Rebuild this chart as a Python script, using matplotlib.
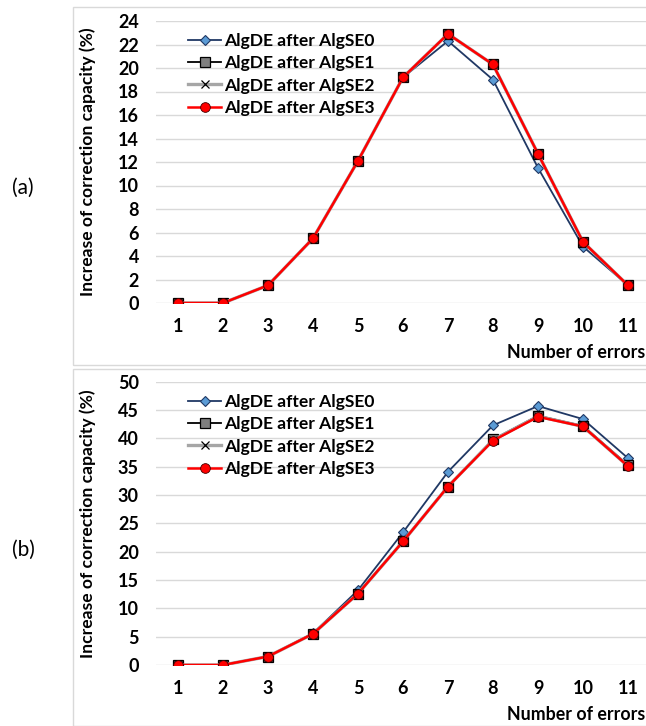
import matplotlib.pyplot as plt
from matplotlib.patches import Rectangle

plt.rcParams["font.family"] = ["Lato", "DejaVu Sans"]

errors = [1, 2, 3, 4, 5, 6, 7, 8, 9, 10, 11]
labels = ["AlgDE after AlgSE0", "AlgDE after AlgSE1",
          "AlgDE after AlgSE2", "AlgDE after AlgSE3"]

# panel (a)
a_se0 = [0, 0, 1.5, 5.5, 12.1, 19.2, 22.3, 19.0, 11.5, 4.8, 1.5]
a_se1 = [0, 0, 1.5, 5.5, 12.1, 19.2, 22.9, 20.3, 12.7, 5.2, 1.5]
a_se2 = [0, 0, 1.5, 5.5, 12.1, 19.2, 22.9, 20.3, 12.7, 5.2, 1.5]
a_se3 = [0, 0, 1.5, 5.5, 12.1, 19.2, 22.9, 20.3, 12.7, 5.2, 1.5]

# panel (b)
b_se0 = [0, 0, 1.5, 5.6, 13.2, 23.4, 34.1, 42.3, 45.7, 43.4, 36.5]
b_se1 = [0, 0, 1.5, 5.5, 12.6, 21.8, 31.5, 39.8, 44.0, 42.2, 35.3]
b_se2 = [0, 0, 1.5, 5.5, 12.6, 21.8, 31.5, 39.7, 43.9, 42.1, 35.1]
b_se3 = [0, 0, 1.5, 5.5, 12.6, 21.8, 31.5, 39.6, 43.8, 42.1, 35.1]

W, H = 646, 726
fig = plt.figure(figsize=(W / 100, H / 100), dpi=100)


def px(x0, y0, x1, y1):
    # pixel box -> figure fraction [left, bottom, width, height]
    return [x0 / W, 1 - y1 / H, (x1 - x0) / W, (y1 - y0) / H]


def draw_panel(ax, series, ymax, ystep):
    s0, s1, s2, s3 = series
    ax.plot(errors, s0, color="#203864", lw=1.3, marker="D", ms=5.5,
            mfc="#5B9BD5", mec="#203864", mew=0.8, label=labels[0], zorder=3)
    ax.plot(errors, s1, color="black", lw=1.3, marker="s", ms=7,
            mfc="#7F7F7F", mec="black", mew=0.9, label=labels[1], zorder=4)
    ax.plot(errors, s2, color="#A6A6A6", lw=2.4, marker="x", ms=6,
            mec="black", mew=0.9, label=labels[2], zorder=5)
    ax.plot(errors, s3, color="#FF0000", lw=1.8, marker="o", ms=7,
            mfc="#FF0000", mec="#400000", mew=0.6, label=labels[3], zorder=6)

    ax.set_xlim(0.5, 11.5)
    ax.set_ylim(0, ymax)
    ax.set_xticks(errors)
    ax.set_yticks(range(0, ymax + 1, ystep))
    ax.grid(axis="y", color="#D9D9D9", lw=1)
    ax.set_axisbelow(True)
    for sp in ax.spines.values():
        sp.set_visible(False)
    ax.tick_params(length=0, labelsize=13)
    ax.tick_params(axis="x", pad=11)
    ax.tick_params(axis="y", pad=12)
    for t in ax.get_xticklabels() + ax.get_yticklabels():
        t.set_fontweight("bold")
    ax.set_ylabel("Increase of correction capacity (%)", fontsize=12.6,
                  fontweight="bold", va="center")
    ax.yaxis.set_label_coords(-0.136, 0.5)
    ax.set_xlabel("Number of errors", fontsize=12.8, fontweight="bold",
                  ha="right", va="center")


ax_a = fig.add_axes(px(155.5, 21, 650.5, 303))
draw_panel(ax_a, [a_se0, a_se1, a_se2, a_se3], 24, 2)
ax_a.xaxis.set_label_coords(0.989, -0.174)

ax_b = fig.add_axes(px(155.5, 381.7, 650.5, 665))
draw_panel(ax_b, [b_se0, b_se1, b_se2, b_se3], 50, 5)
ax_b.xaxis.set_label_coords(0.989, -0.176)

for ax, top in [(ax_a, 33), (ax_b, 394)]:
    y_frac = ax.transAxes.inverted().transform(
        fig.transFigure.transform((0, 1 - top / H)))[1]
    ax.legend(loc="upper left", bbox_to_anchor=(0.066, y_frac),
              frameon=False, prop={"weight": "bold", "size": 12.6},
              handlelength=1.9, handletextpad=0.15, labelspacing=0.36,
              borderpad=0, borderaxespad=0)

# panel frames
fig.patches.append(Rectangle((73 / W, 1 - 365 / H), 1, (365 - 7) / H,
                             transform=fig.transFigure, fill=False,
                             edgecolor="#D9D9D9", lw=1))
fig.patches.append(Rectangle((73 / W, 1 - 726 / H), 1, (726 - 369) / H,
                             transform=fig.transFigure, fill=False,
                             edgecolor="#D9D9D9", lw=1))

fig.text(23 / W, 1 - 188 / H, "(a)", fontsize=15, ha="center", va="center")
fig.text(23 / W, 1 - 550 / H, "(b)", fontsize=15, ha="center", va="center")

fig.savefig("out.png", dpi=100)
